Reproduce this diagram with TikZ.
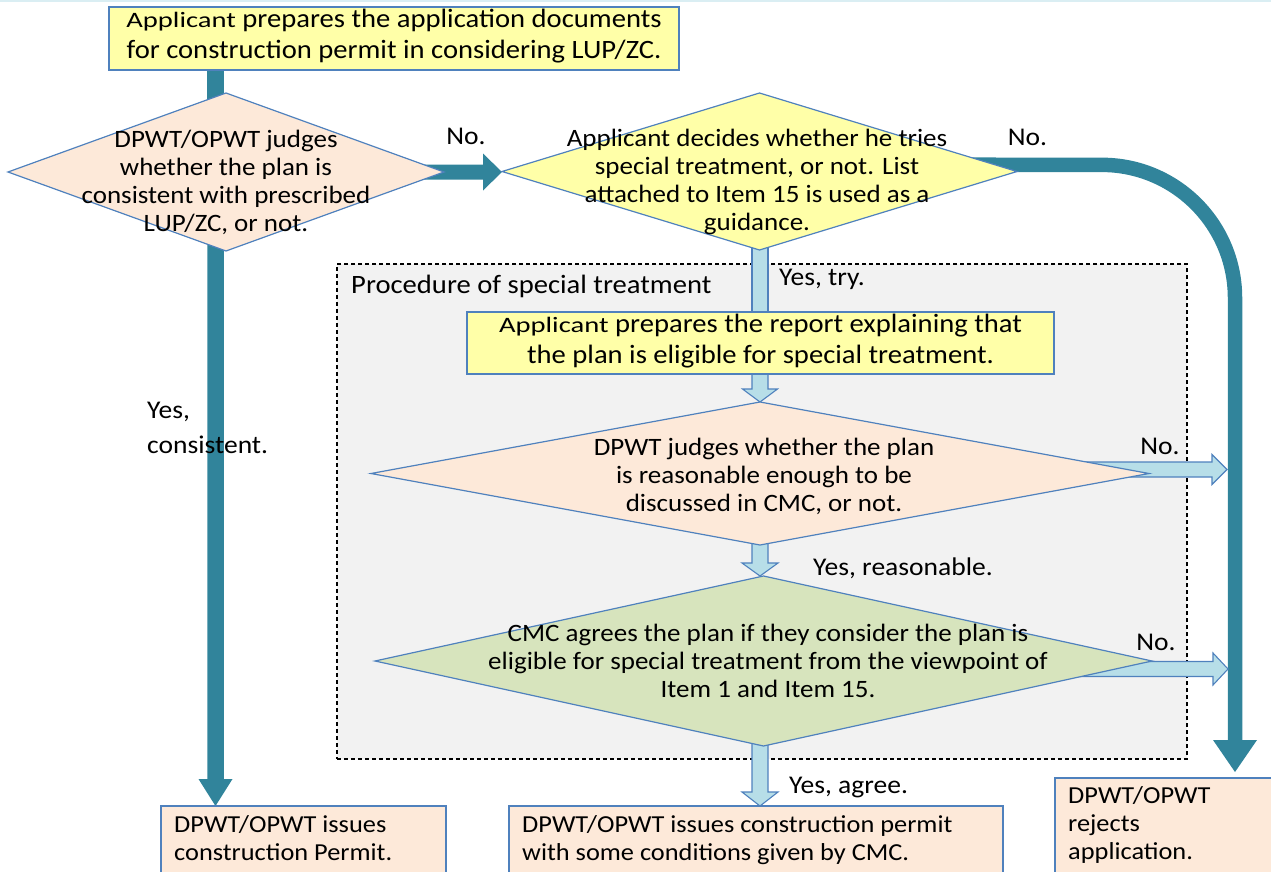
\documentclass[tikz,border=0pt]{standalone}
\usepackage{fontspec}
\setmainfont{Carlito}[FakeStretch=1.08]
\newfontfamily\appfont{Carlito}[FakeStretch=1.3]
\usetikzlibrary{calc,shapes.geometric}
\pgfdeclarelayer{bg}
\pgfsetlayers{bg,main}

\definecolor{boxline}{HTML}{4F81BD}
\definecolor{yellowfill}{HTML}{FFFFA8}
\definecolor{pinkfill}{HTML}{FDE9D9}
\definecolor{greenfill}{HTML}{D7E4BD}
\definecolor{tealc}{HTML}{31849B}
\definecolor{lightblue}{HTML}{B7DEE8}
\definecolor{procgray}{HTML}{F2F2F2}
\definecolor{stripc}{HTML}{DAEEF3}

% block arrow pointing down: from, to, shaft width, head width, head length, style
\newcommand\blockdown[6]{%
  \path[#6] let \p1=(#1), \p2=(#2) in
    (\x1-#3/2,\y1) -- (\x1-#3/2,\y2+#5) -- (\x1-#4/2,\y2+#5) -- (\x1,\y2)
    -- (\x1+#4/2,\y2+#5) -- (\x1+#3/2,\y2+#5) -- (\x1+#3/2,\y1) -- cycle;}
% block arrow pointing right: from, to, shaft width, head width, head length, style
\newcommand\blockright[6]{%
  \path[#6] let \p1=(#1), \p2=(#2) in
    (\x1,\y1+#3/2) -- (\x2-#5,\y1+#3/2) -- (\x2-#5,\y1+#4/2) -- (\x2,\y1)
    -- (\x2-#5,\y1-#4/2) -- (\x2-#5,\y1-#3/2) -- (\x1,\y1-#3/2) -- cycle;}

\begin{document}
\begin{tikzpicture}[x=1pt,y=-1pt,
  shape box/.style={rectangle, draw=boxline, line width=1.2pt, inner sep=0pt, outer sep=0pt},
  decision/.style={diamond, draw=boxline, line width=1.2pt, inner sep=0pt, outer sep=0pt},
  struts/.style={execute at begin node=\strut, execute at end node=\strut},
  boxtext/.style={align=center, struts, font=\fontsize{26.5}{31}\selectfont},
  dtext/.style={align=center, inner sep=0pt, struts, font=\fontsize{25}{28}\selectfont},
  etext/.style={align=left, anchor=west, inner sep=0pt, struts, font=\fontsize{24.4}{28}\selectfont},
  lab/.style={inner sep=0pt, font=\fontsize{25.5}{28}\selectfont},
  procbox/.style={rectangle, fill=procgray, draw=black, line width=1.1pt,
    dash pattern=on 4pt off 3pt, inner sep=0pt},
  tealfill/.style={fill=tealc},
  lbfill/.style={fill=lightblue, draw=boxline, line width=1.1pt, line join=miter},
  tealline/.style={draw=tealc, line width=14.5pt, rounded corners=133pt}]

\useasboundingbox (0,0) rectangle (1271,872);
\fill[stripc] (0,0) rectangle (1271,2.5);

% grey frame of the special-treatment procedure
\begin{pgfonlayer}{bg}
  \node[procbox, minimum width=850pt, minimum height=495pt] (G) at (762,511.5) {};
\end{pgfonlayer}
\node[anchor=base west, inner sep=0pt, font=\fontsize{26.5}{30}\selectfont] (Gl) at (351,293)
  {Procedure of special treatment};

% process boxes
\node[shape box, fill=yellowfill, minimum width=570pt, minimum height=63pt, boxtext] (A) at (394,38.5)
  {{\appfont\fontsize{22}{31}\selectfont Applicant} prepares the application documents\\
   for construction permit in considering LUP/ZC.};
\node[shape box, fill=yellowfill, minimum width=587pt, minimum height=62pt, boxtext] (B) at (760.5,343)
  {{\appfont\fontsize{22}{31}\selectfont Applicant} prepares the report explaining that\\
   the plan is eligible for special treatment.};

% decisions
\node[decision, fill=pinkfill, minimum width=436pt, minimum height=158pt] (d1) at (226,172) {};
\node[dtext] (d1t) at (226,184.9)
  {DPWT/OPWT judges\\whether the plan is\\consistent with prescribed\\LUP/ZC, or not.};
\node[decision, fill=yellowfill, minimum width=515pt, minimum height=157pt] (d2) at (759.5,171.5) {};
\node[dtext] (d2t) at (757,184.4)
  {Applicant decides whether he tries\\special treatment, or not. List\\attached to Item 15 is used as a\\guidance.};
\node[decision, fill=pinkfill, minimum width=778pt, minimum height=143pt] (d3) at (760,473.5) {};
\node[dtext] (d3t) at (764,479.4)
  {DPWT judges whether the plan\\is reasonable enough to be\\discussed in CMC, or not.};
\node[decision, fill=greenfill, minimum width=777pt, minimum height=170pt] (d4) at (763.5,661) {};
\node[dtext] (d4t) at (768,665.4)
  {CMC agrees the plan if they consider the plan is\\eligible for special treatment from the viewpoint of\\Item 1 and Item 15.};

% outcomes
\node[shape box, fill=pinkfill, minimum width=285pt, minimum height=79pt] (E1) at (303.5,845.5) {};
\node[etext] (E1t) at (174,841.9) {DPWT/OPWT issues\\construction Permit.};
\node[shape box, fill=pinkfill, minimum width=494pt, minimum height=79pt] (E2) at (756,845.5) {};
\node[etext] (E2t) at (522,841.9) {DPWT/OPWT issues construction permit\\with some conditions given by CMC.};
\node[shape box, fill=pinkfill, minimum width=230pt, minimum height=107pt] (E3) at (1170,831.5) {};
\node[etext] (E3t) at (1068,826.9) {DPWT/OPWT\\rejects\\application.};

% branch labels
\node[lab, anchor=base] (no1) at (466,145) {No.};
\node[lab, anchor=base] (no2) at (1027.5,146) {No.};
\node[lab, anchor=base] (no3) at (1160,454) {No.};
\node[lab, anchor=base] (no4) at (1156,650) {No.};
\node[lab, anchor=base west] (yes1) at (779,285) {Yes, try.};
\node[lab, anchor=base west] (yes2) at (813,575) {Yes, reasonable.};
\node[lab, anchor=base west] (yes3) at (789,793) {Yes, agree.};
\node[lab, anchor=base west] (yes4a) at (147,418) {Yes,};
\node[lab, anchor=base west] (yes4b) at (147,453) {consistent.};

% guide positions of the long connectors
\coordinate (lx) at (215.5,0);
\coordinate (mx) at (760,0);
\coordinate (cR) at (1235,165);
\coordinate (n3) at (1227,469.5);
\coordinate (n4) at (1228,669);
\coordinate (tR) at ($(E3.north -| cR)+(0,-6)$);

% connectors, drawn underneath the shapes
\begin{pgfonlayer}{bg}
  % main flow
  \draw[draw=tealc, line width=16.5pt] (A.center -| lx) -- (d1.center -| lx);
  \blockdown{d1.center -| lx}{E1.north -| lx}{16.5}{34}{27}{tealfill}
  \blockright{d1.center}{d2.west}{15}{37}{19}{tealfill}
  \draw[tealline] ([yshift=7pt]d2.center) -- (cR) -- ($(tR)+(0,-31)$);
  \fill[tealc] let \p1=(tR) in (\x1-22,\y1+32) -- (\x1,\y1) -- (\x1+22,\y1+32) -- cycle;
  % special treatment flow
  \filldraw[lbfill] let \p1=(d2.center -| mx), \p2=(B.north -| mx) in
    (\x1-8,\y1) rectangle (\x1+8,\y2);
  \blockdown{B.center -| mx}{d3.north -| mx}{16}{35}{13}{lbfill}
  \blockdown{d3.center -| mx}{d4.north -| mx}{16}{36}{13}{lbfill}
  \blockdown{d4.center -| mx}{E2.north -| mx}{16}{36}{14}{lbfill}
  \blockright{[yshift=4pt]d3.center}{n3}{15}{30}{15}{lbfill}
  \blockright{[yshift=-8pt]d4.center}{n4}{15}{32}{15}{lbfill}
\end{pgfonlayer}
\end{tikzpicture}
\end{document}
